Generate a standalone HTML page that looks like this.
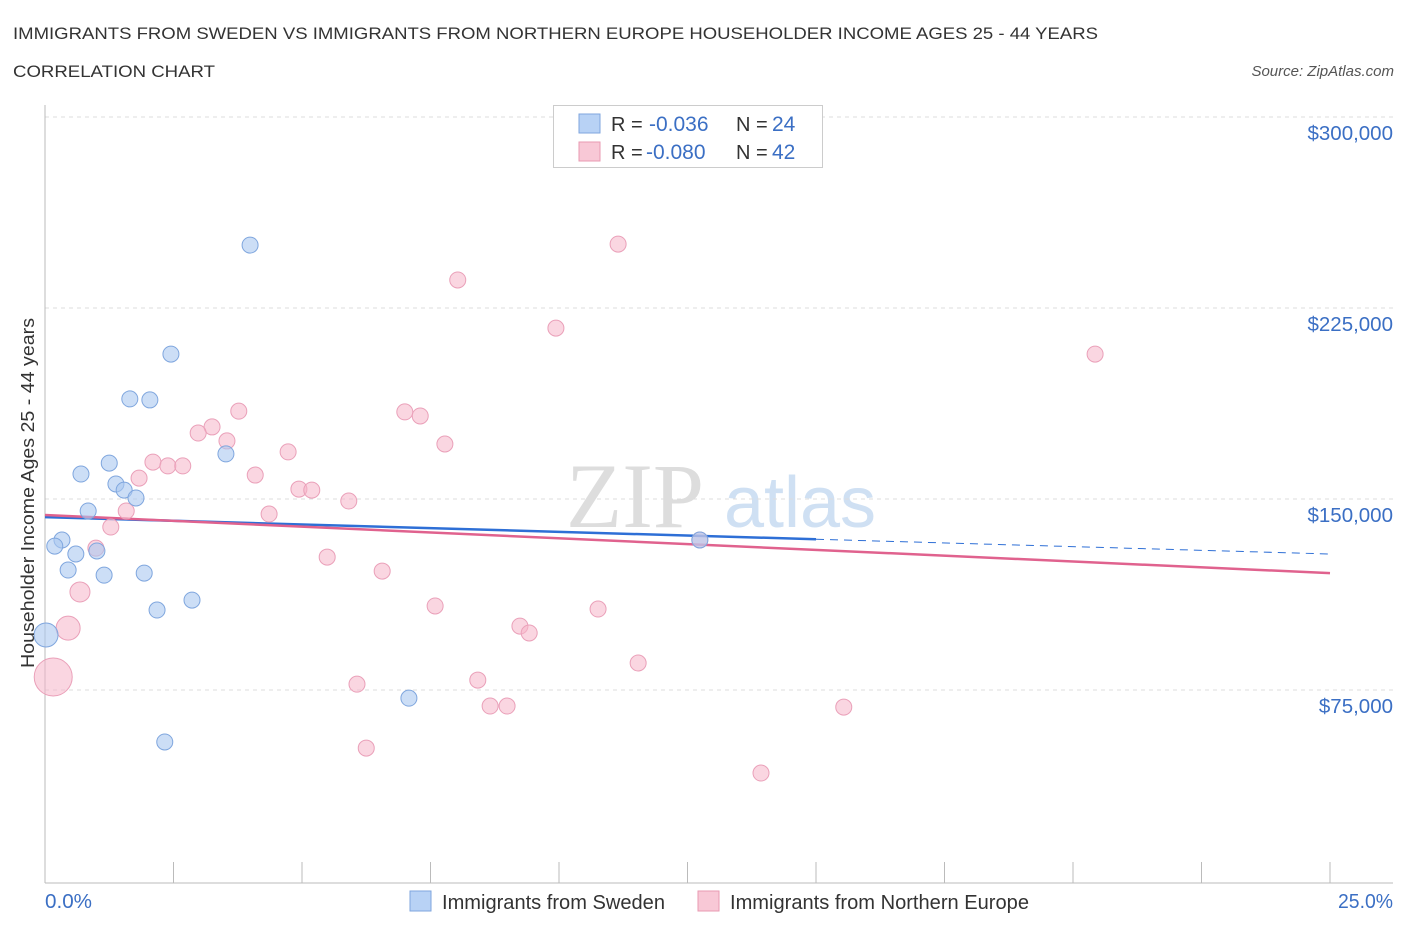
<!DOCTYPE html>
<html><head><meta charset="utf-8"><style>
body{margin:0;background:#fff;font-family:"Liberation Sans",sans-serif;}
svg{display:block}
</style></head><body>
<svg id="chart" width="1406" height="930" xmlns="http://www.w3.org/2000/svg">
<text x="13" y="39" font-size="17" fill="#333" textLength="1085" lengthAdjust="spacingAndGlyphs">IMMIGRANTS FROM SWEDEN VS IMMIGRANTS FROM NORTHERN EUROPE HOUSEHOLDER INCOME AGES 25 - 44 YEARS</text>
<text x="13" y="77" font-size="17" fill="#333" textLength="202" lengthAdjust="spacingAndGlyphs">CORRELATION CHART</text>
<text x="1394" y="76" font-size="15" fill="#555" font-style="italic" text-anchor="end">Source: ZipAtlas.com</text>
<text x="635" y="527" font-size="92" fill="#ddd" font-family="Liberation Serif,serif" text-anchor="middle">ZIP</text>
<text x="800" y="527" font-size="72" fill="#cfe0f3" text-anchor="middle">atlas</text>
<g id="grid"></g><g id="axes"></g><g id="trends"></g><g id="points"></g>
<text transform="translate(34,493) rotate(-90)" font-size="18" fill="#333" text-anchor="middle" textLength="350" lengthAdjust="spacingAndGlyphs">Householder Income Ages 25 - 44 years</text>
<text x="45" y="908" font-size="20" fill="#3b6fc4" textLength="47" lengthAdjust="spacingAndGlyphs">0.0%</text>
<text x="1338" y="908" font-size="20" fill="#3b6fc4" textLength="55" lengthAdjust="spacingAndGlyphs">25.0%</text>
<g>
<rect x="553.5" y="105.5" width="269" height="62" fill="#fff" stroke="#ccc"/>
<rect x="579" y="114" width="21" height="19" fill="#b8d2f5" stroke="#7fa6de"/>
<rect x="579" y="142" width="21" height="19" fill="#f8c8d6" stroke="#e89ab2"/>
<text x="611" y="131" font-size="20" fill="#333">R =</text>
<text x="649" y="131" font-size="21" fill="#3b6fc4">-0.036</text>
<text x="736" y="131" font-size="20" fill="#333">N =</text>
<text x="772" y="131" font-size="21" fill="#3b6fc4">24</text>
<text x="611" y="159" font-size="20" fill="#333">R =</text>
<text x="646" y="159" font-size="21" fill="#3b6fc4">-0.080</text>
<text x="736" y="159" font-size="20" fill="#333">N =</text>
<text x="772" y="159" font-size="21" fill="#3b6fc4">42</text>
</g>
<g>
<rect x="410" y="891" width="21" height="20" fill="#b8d2f5" stroke="#7fa6de"/>
<text x="442" y="909" font-size="20" fill="#333" textLength="223" lengthAdjust="spacingAndGlyphs">Immigrants from Sweden</text>
<rect x="698" y="891" width="21" height="20" fill="#f8c8d6" stroke="#e89ab2"/>
<text x="730" y="909" font-size="20" fill="#333" textLength="299" lengthAdjust="spacingAndGlyphs">Immigrants from Northern Europe</text>
</g>
</svg>
<script>
const yTicks=[75000,150000,225000,300000];
const yTickLabels=["$75,000","$150,000","$225,000","$300,000"];
const swedenX=[3.99,2.45,1.65,2.04,3.52,1.25,0.70,1.38,1.54,1.77,0.84,0.33,0.19,0.60,1.01,0.45,1.15,1.93,2.18,2.86,0.02,7.08,2.33,12.74];
const swedenY=[249700,206900,189300,188900,167700,164100,159800,155900,153500,150400,145300,133900,131500,128400,129600,122100,120100,120900,106400,110300,96600,71800,54600,133900];
const swedenR=[8,8,8,8,8,8,8,8,8,8,8,8,8,8,8,8,8,8,8,8,12,8,8,8];
const neX=[11.15,8.03,9.94,20.43,3.77,7.0,7.3,3.25,2.98,3.54,7.78,4.73,2.10,2.39,2.68,4.09,1.83,4.94,5.19,5.91,1.58,4.36,1.28,0.99,5.49,6.56,0.68,7.59,10.76,0.45,9.24,9.42,11.54,8.42,6.07,0.16,8.66,8.99,15.54,6.25,13.93,12.74];
const neY=[250100,236000,217100,206900,184500,184200,182600,178300,175900,172800,171600,168500,164500,163000,163000,159400,158200,153900,153500,149200,145300,144100,139000,130700,127200,121700,113500,108000,106800,99300,100100,97400,85600,78900,77300,80100,68700,68700,68300,52200,42400,133900];
const neR=[8,8,8,8,8,8,8,8,8,8,8,8,8,8,8,8,8,8,8,8,8,8,8,8,8,8,10,8,8,12,8,8,8,8,8,19,8,8,8,8,8,8];
const trendSweden=[142900,128400];
const trendNE=[143700,120900];
const NS="http://www.w3.org/2000/svg";
const X=p=>45+p/25*1285;
const Y=v=>117+(300000-v)/75000*191;
function mk(tag,attrs,parent){const e=document.createElementNS(NS,tag);for(const k in attrs)e.setAttribute(k,attrs[k]);document.getElementById(parent).appendChild(e);return e;}
yTicks.forEach((t,i)=>{
 const l=mk('line',{x1:45,x2:1393,y1:Y(t),y2:Y(t),stroke:'#ddd','stroke-dasharray':'4 4'},'grid');
 
 
 const tx=mk('text',{x:1393,y:Y(t)+23,'font-size':20.5,fill:'#3b6fc4','text-anchor':'end'},'grid');
 tx.textContent=yTickLabels[i];
 
 
});
let ax=mk('line',{x1:45,x2:45,y1:105,y2:883,stroke:'#bbb'},'axes');


ax=mk('line',{x1:45,x2:1393,y1:883,y2:883,stroke:'#bbb'},'axes');


for(let i=0;i<=10;i++){const t=mk('line',{x1:X(i*2.5),x2:X(i*2.5),y1:862,y2:883,stroke:'#bbb'},'axes');
 
 }
let tl=mk('line',{x1:X(0),y1:Y(trendSweden[0]),x2:X(15),y2:Y(trendSweden[0]+(trendSweden[1]-trendSweden[0])*0.6),stroke:'#2e6fd6','stroke-width':2.5},'trends');


tl=mk('line',{x1:X(15),y1:Y(trendSweden[0]+(trendSweden[1]-trendSweden[0])*0.6),x2:X(25),y2:Y(trendSweden[1]),stroke:'#2e6fd6','stroke-width':1,'stroke-dasharray':'8 6'},'trends');


tl=mk('line',{x1:X(0),y1:Y(trendNE[0]),x2:X(25),y2:Y(trendNE[1]),stroke:'#e0628e','stroke-width':2.5},'trends');


neX.forEach((x,i)=>{const c=mk('circle',{cx:X(x),cy:Y(neY[i]),r:neR[i],fill:'rgba(246,180,201,0.55)',stroke:'#eaa0b9','stroke-width':1},'points');
 
 });
swedenX.forEach((x,i)=>{const c=mk('circle',{cx:X(x),cy:Y(swedenY[i]),r:swedenR[i],fill:'rgba(170,200,240,0.6)',stroke:'#7fa6de','stroke-width':1},'points');
 
 });
</script>
</body></html>
